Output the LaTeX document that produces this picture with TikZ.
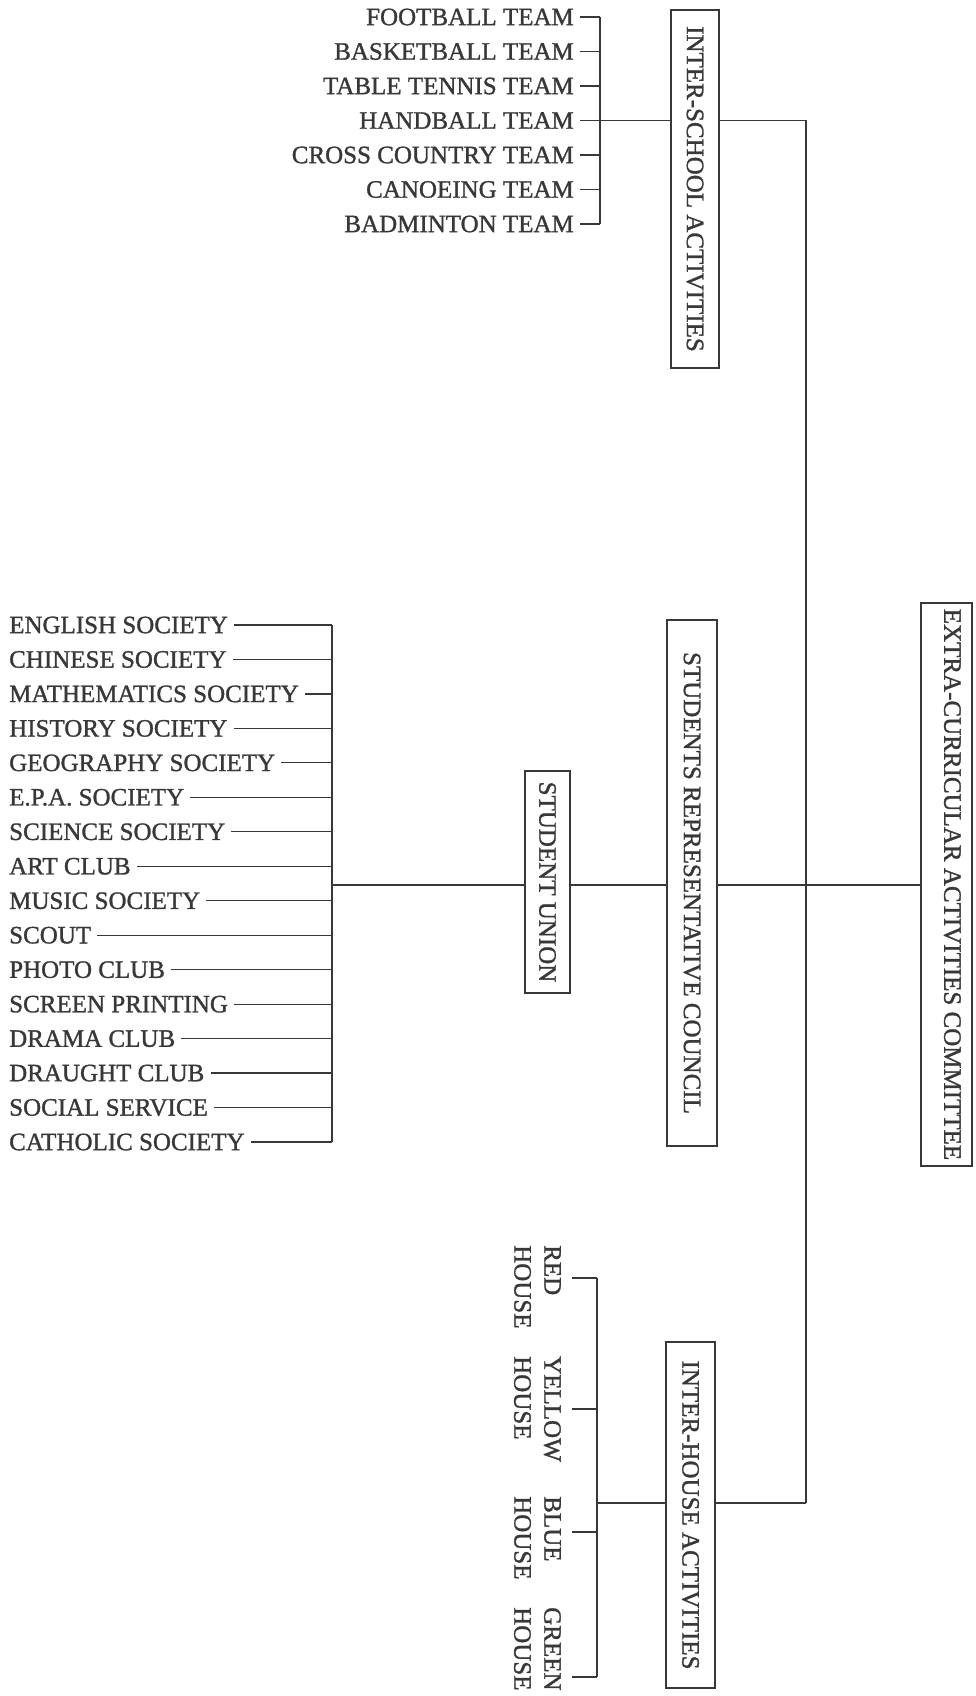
\documentclass[tikz,border=0pt]{standalone}
\usepackage{fontspec}
\setmainfont{Liberation Serif}[FakeBold=1.2]
\definecolor{inkc}{HTML}{383838}
\begin{document}
\begin{tikzpicture}[x=1pt,y=-1pt,
  every node/.style={text=inkc, font=\fontsize{25}{30}\selectfont},
  conn/.style={draw=inkc, line width=1.2pt},
  vbox/.style={draw=inkc, line width=1.2pt, rotate=-90, inner sep=0pt},
  item/.style={inner xsep=6pt, inner ysep=0pt},
  house/.style={rotate=-90, align=left, inner xsep=0pt, inner ysep=11pt, anchor=north west}]
\useasboundingbox (0,0) rectangle (975,1696);

% boxes
\node[vbox, minimum width=358pt, minimum height=48pt] (isch) at (695,189) {INTER-SCHOOL ACTIVITIES};
\node[vbox, minimum width=526pt, minimum height=50pt] (src) at (692,883) {STUDENTS REPRESENTATIVE COUNCIL};
\node[vbox, minimum width=563pt, minimum height=51pt, text depth=12pt] (ecac) at (946.5,884.5) {EXTRA-CURRICULAR ACTIVITIES COMMITTEE};
\node[vbox, minimum width=222pt, minimum height=45pt] (su) at (547.5,882) {STUDENT UNION};
\node[vbox, minimum width=346pt, minimum height=49pt] (ih) at (690.5,1515) {INTER-HOUSE ACTIVITIES};

% junction coordinates
\coordinate (itop) at (600,17);
\coordinate (ibot) at (600,224);
\coordinate (mtop) at (806,120.5);
\coordinate (mbot) at (806,1503);
\coordinate (hy) at (806,885);
\coordinate (lvTop) at (332,625);
\coordinate (lvBot) at (332,1142);
\coordinate (hR) at (597,1278);
\coordinate (hY) at (597,1409);
\coordinate (hB) at (597,1532);
\coordinate (hG) at (597,1677);

% inter-school teams
\foreach \t [count=\i] in {FOOTBALL TEAM, BASKETBALL TEAM, TABLE TENNIS TEAM, HANDBALL TEAM, CROSS COUNTRY TEAM, CANOEING TEAM, BADMINTON TEAM}{
  \node[item, anchor=east] (t\i) at (580,{17+34.5*(\i-1)}) {\t};
  \draw[conn] (t\i.east) -- (t\i.east -| itop);
}
\draw[conn] (itop) -- (ibot);
\draw[conn] (t4.east -| itop) -- (isch.south |- t4.east);
\draw[conn] (isch.north |- mtop) -- (mtop) -- (mbot);

% student union societies
\foreach \t [count=\i] in {ENGLISH SOCIETY, CHINESE SOCIETY, MATHEMATICS SOCIETY, HISTORY SOCIETY, GEOGRAPHY SOCIETY, E.P.A. SOCIETY, SCIENCE SOCIETY, ART CLUB, MUSIC SOCIETY, SCOUT, PHOTO CLUB, SCREEN PRINTING, DRAMA CLUB, DRAUGHT CLUB, SOCIAL SERVICE, CATHOLIC SOCIETY}{
  \node[item, anchor=west] (l\i) at (3,{625+34.467*(\i-1)}) {\t};
  \draw[conn] (l\i.east) -- (l\i.east -| lvTop);
}
\draw[conn] (lvTop) -- (lvBot);

% central line
\draw[conn] (lvTop |- hy) -- (su.south |- hy);
\draw[conn] (su.north |- hy) -- (src.south |- hy);
\draw[conn] (src.north |- hy) -- (ecac.south |- hy);

% inter-house
\draw[conn] (mbot) -- (ih.north |- mbot);
\draw[conn] (ih.south |- mbot) -- (hR |- mbot);
\draw[conn] (hR) -- (hG);
\node[house] (hr) at (572,1245) {RED\\HOUSE};
\node[house] (hyl) at (572,1356) {YELLOW\\HOUSE};
\node[house] (hb) at (572,1496) {BLUE\\HOUSE};
\node[house] (hg) at (572,1607) {GREEN\\HOUSE};
\draw[conn] (hr.north |- hR) -- (hR);
\draw[conn] (hyl.north |- hY) -- (hY);
\draw[conn] (hb.north |- hB) -- (hB);
\draw[conn] (hg.north |- hG) -- (hG);
\end{tikzpicture}
\end{document}
